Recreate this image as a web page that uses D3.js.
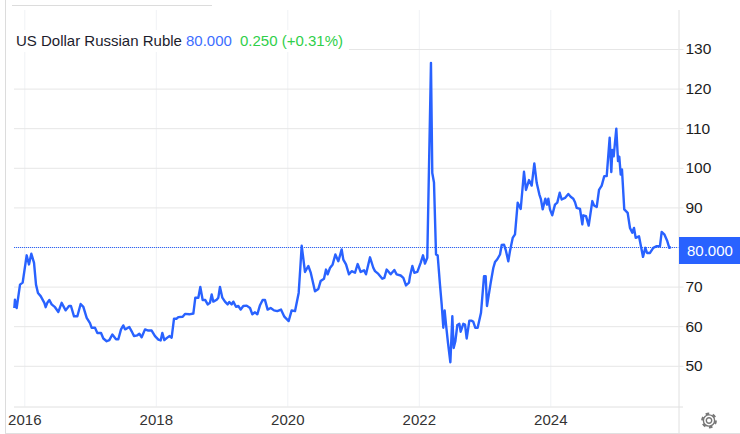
<!DOCTYPE html>
<html lang="en">
<head>
  <meta charset="UTF-8">
  <title>US Dollar Russian Ruble</title>
  <style>
    html, body { margin: 0; padding: 0; background: #fff; overflow: hidden; }
    text { font-family: "Liberation Sans", Arial, sans-serif; }
  </style>
</head>
<body>
  <script src="https://cdn.jsdelivr.net/npm/d3@7"></script>
  <script>
    // time as decimal year
    let years = [
      2015.848,2015.858,2015.884,2015.935,2015.975,2016.036,2016.071,2016.107,2016.148,2016.178,2016.208,2016.249,
      2016.305,2016.325,2016.350,2016.381,2016.416,2016.467,2016.518,2016.568,2016.629,2016.680,2016.710,2016.756,
      2016.807,2016.857,2016.898,2016.949,2016.999,2017.025,2017.075,2017.111,2017.167,2017.202,2017.253,2017.293,
      2017.339,2017.395,2017.430,2017.471,2017.506,2017.532,2017.557,2017.597,
      2017.633,2017.668,2017.719,2017.750,2017.785,2017.836,2017.886,2017.937,2017.988,2018.039,2018.074,2018.099,
      2018.130,2018.175,2018.206,2018.241,2018.277,2018.317,2018.343,2018.409,2018.444,2018.510,2018.571,2018.601,
      2018.647,2018.677,2018.713,2018.753,2018.789,2018.824,2018.850,2018.875,2018.926,2018.951,2018.976,2019.012,
      2019.052,2019.093,2019.118,2019.154,2019.179,2019.220,2019.255,2019.291,2019.331,2019.382,
      2019.433,2019.468,2019.509,2019.544,2019.585,2019.625,2019.661,2019.701,2019.747,2019.798,2019.848,2019.904,
      2019.955,2020.021,2020.066,2020.117,2020.173,2020.193,2020.219,2020.269,2020.320,2020.355,2020.421,2020.472,
      2020.507,2020.558,2020.589,2020.614,2020.649,2020.690,2020.731,2020.776,2020.802,2020.827,2020.852,2020.893,
      2020.938,2020.979,2021.030,2021.070,2021.116,2021.167,2021.197,
      2021.258,2021.309,2021.334,2021.385,2021.445,2021.476,2021.511,2021.572,2021.628,2021.663,2021.724,2021.765,
      2021.805,2021.851,2021.866,2021.902,2021.932,2021.978,2022.028,2022.064,2022.094,2022.129,2022.155,2022.178,
      2022.185,2022.205,2022.231,2022.262,2022.287,2022.322,2022.348,2022.373,2022.393,2022.414,2022.444,2022.480,
      2022.510,2022.530,2022.556,2022.586,2022.617,2022.637,2022.677,2022.703,2022.728,2022.769,2022.804,2022.829,
      2022.860,2022.895,2022.946,2022.992,2023.017,2023.037,2023.094,2023.133,2023.159,2023.194,2023.235,2023.261,
      2023.296,2023.326,2023.361,2023.387,2023.428,2023.463,2023.504,2023.550,2023.600,2023.630,2023.676,2023.717,
      2023.757,2023.793,2023.833,2023.858,2023.884,2023.924,2023.950,2023.970,2023.995,2024.030,2024.071,2024.106,
      2024.143,2024.173,2024.224,2024.274,2024.310,2024.350,2024.376,2024.401,2024.452,2024.487,2024.502,2024.543,
      2024.584,2024.639,2024.665,2024.706,2024.741,2024.782,2024.821,2024.858,2024.903,2024.928,2024.943,2024.964,
      2025.004,2025.030,2025.049,2025.071,2025.090,2025.125,2025.177,2025.212,2025.247,2025.273,2025.299,2025.349,
      2025.410,2025.445,2025.471,2025.516,2025.566,2025.618,2025.668,2025.694,2025.734,2025.779,2025.810,2025.836
    ];
    let values = [
      64.6,66.7,64.6,70.5,71.0,77.9,75.6,78.3,76.0,70.5,68.4,67.6,
      65.9,64.8,65.9,66.6,65.5,64.8,63.6,65.9,64.0,65.1,65.1,62.5,
      62.5,65.6,64.9,62.1,60.8,59.6,59.6,58.3,58.3,56.9,56.2,56.5,
      57.9,56.7,56.7,59.2,60.2,59.2,59.4,59.8,
      58.7,57.5,57.7,58.1,57.2,59.2,58.9,58.9,57.5,56.6,56.4,58.3,
      56.5,57.1,57.5,57.1,61.9,61.9,62.3,62.4,63.1,63.0,63.2,67.2,
      67.2,69.9,66.6,66.6,65.5,65.9,68.0,66.2,66.7,67.2,69.9,67.2,
      66.2,65.5,66.1,65.5,66.2,64.9,65.1,64.2,65.1,65.2,
      64.6,63.0,63.5,63.0,65.3,66.6,66.6,64.2,64.6,64.0,63.8,64.2,
      62.4,61.3,64.0,63.8,68.4,73.5,80.3,73.7,75.2,73.6,68.8,69.4,
      71.4,72.0,74.3,73.1,74.7,75.6,78.1,76.4,77.9,79.4,76.8,75.6,
      73.1,73.9,73.5,75.7,73.7,74.1,73.1,
      77.4,74.7,73.9,73.2,72.0,72.2,74.3,73.1,74.2,73.1,72.8,72.2,
      70.3,71.0,72.6,75.2,73.5,73.7,76.0,77.9,75.8,77.3,100,120,
      126.5,98.7,96.3,78.1,77.9,70.5,65.5,59.6,64.0,60.4,55.8,50.9,
      62.5,54.5,56.2,60.3,60.6,58.6,60.6,60.4,56.9,61.4,61.4,61.1,
      59.6,59.6,63.4,72.6,72.6,65.1,71.0,74.7,76.2,76.9,78.1,80.5,
      80.6,79.0,76.4,79.0,82.3,83.2,91.2,89.6,99.0,94.4,96.9,95.5,
      101.1,96.2,93.3,92.0,89.5,92.2,90.7,92.2,89.5,88.0,90.7,91.2,
      93.7,92.0,92.4,93.4,92.7,92.2,91.3,89.9,89.6,85.7,88.0,87.8,
      85.4,91.6,90.5,90.1,94.4,95.5,97.9,97.9,107.6,98.9,104.5,102.9,
      109.9,101.7,102.8,98.3,99.6,89.5,88.6,84.8,83.6,84.8,82.3,82.7,
      77.5,79.8,78.5,78.5,79.8,80.2,80.2,83.8,83.2,81.5,79.8,80.0
    ];
    let gridTicks = [50, 60, 70, 80, 90, 100, 110, 120, 130];
    let yTicks = [50, 60, 70, 90, 100, 110, 120, 130]; // 80 is covered by the price tag
    let yearTicks = [2016, 2018, 2020, 2022, 2024];
    let lastPrice = 80;
    let seriesName = 'US Dollar Russian Ruble';
    let priceLabel = '80.000';
    let changeLabel = '0.250 (+0.31%)';

    let width = 740;
    let height = 434;
    let plotLeft = 14;
    let plotRight = 678.5;
    let plotBottom = 406.5;
    let plotTop = 10;
    let blue = '#2962ff';

    let svg = d3.select('body').append('svg')
                .attr('width', width)
                .attr('height', height)
                .style('display', 'block');

    let x = d3.scaleLinear().domain([2016, 2024]).range([24.3, 550.3]);
    let y = d3.scaleLinear().domain([50, 130]).range([365.8, 49]);

    // outer frame bits
    svg.append('line').attr('x1', 5.5).attr('x2', 5.5).attr('y1', 0).attr('y2', height).attr('stroke', '#dcdcdc').attr('stroke-width', 1);
    svg.append('line').attr('x1', 12).attr('x2', 212).attr('y1', 5.5).attr('y2', 5.5).attr('stroke', '#dcdcdc').attr('stroke-width', 1);
    svg.append('line').attr('x1', 5).attr('x2', width).attr('y1', 433.5).attr('y2', 433.5).attr('stroke', '#e0e0e0').attr('stroke-width', 1);

    // grid
    svg.append('g')
       .attr('transform', `translate(0, ${plotBottom})`)
       .call(d3.axisBottom(x).tickValues(yearTicks).tickSize(-(plotBottom - plotTop)).tickFormat(''))
       .call(g => g.select('.domain').remove())
       .call(g => g.selectAll('line').attr('stroke', '#f0f2f6'));
    svg.append('g')
       .attr('transform', `translate(${plotRight}, 0)`)
       .call(d3.axisLeft(y).tickValues(gridTicks).tickSize(plotRight - plotLeft).tickFormat(''))
       .call(g => g.select('.domain').remove())
       .call(g => g.selectAll('line').attr('stroke', '#e6e6e6'));

    // legend sits on white, hides the grid behind it
    svg.append('rect').attr('x', plotLeft).attr('y', 30).attr('width', 335).attr('height', 22).attr('fill', '#fff');

    // last price dotted line
    svg.append('line')
       .attr('x1', plotLeft).attr('x2', plotRight)
       .attr('y1', 247.5).attr('y2', 247.5)
       .attr('stroke', blue).attr('stroke-width', 1).attr('stroke-dasharray', '1,1');

    // series
    let line = d3.line()
                 .x((d, i) => x(years[i]))
                 .y(d => y(d));
    svg.append('path')
       .datum(values)
       .attr('fill', 'none')
       .attr('stroke', blue)
       .attr('stroke-width', 2.4)
       .attr('stroke-linejoin', 'round')
       .attr('d', line);

    // axes
    let yAxis = svg.append('g')
       .attr('transform', `translate(${plotRight}, 0)`)
       .call(d3.axisRight(y).tickValues(yTicks).tickSize(5).tickPadding(2));
    yAxis.select('.domain').attr('d', `M0.5,${plotTop}V${height}`).attr('stroke', '#e0e0e0');
    yAxis.selectAll('line').attr('stroke', '#e6e6e6');
    yAxis.selectAll('text').attr('font-size', 15.5).attr('fill', '#1c1c1c').style('font-family', '"Liberation Sans", Arial, sans-serif');

    let xAxis = svg.append('g')
       .attr('transform', `translate(0, ${plotBottom})`)
       .call(d3.axisBottom(x).tickValues(yearTicks).tickSize(0).tickPadding(8).tickFormat(d3.format('d')));
    xAxis.select('.domain').attr('d', `M${plotLeft},0.5H683`).attr('stroke', '#e0e0e0');
    xAxis.selectAll('text').attr('font-size', 15).attr('fill', '#333').style('font-family', '"Liberation Sans", Arial, sans-serif');

    // price tag
    svg.append('rect').attr('x', 679).attr('y', 237).attr('width', 61).attr('height', 27).attr('fill', blue);
    svg.append('text').attr('x', 687).attr('y', 256).attr('font-size', 15).attr('fill', '#fff').text(priceLabel);

    // legend
    let legend = svg.append('text').attr('x', 16).attr('y', 46).attr('font-size', 15);
    legend.append('tspan').attr('fill', '#1c1c2c').text(seriesName);
    legend.append('tspan').attr('x', 186).attr('fill', '#3d6dff').text(priceLabel);
    legend.append('tspan').attr('x', 240).attr('fill', '#2fcf4a').text(changeLabel);

    // settings gear
    let gear = svg.append('g').attr('transform', 'translate(709, 420.5)').attr('fill', 'none').attr('stroke', '#777');
    gear.append('circle').attr('r', 2.7).attr('stroke-width', 1.4);
    gear.append('circle').attr('r', 5.6).attr('stroke-width', 1.4);
    gear.append('circle').attr('r', 6.8).attr('stroke-width', 2.2)
        .attr('stroke-dasharray', `${2 * Math.PI * 6.8 / 12},${2 * Math.PI * 6.8 / 12}`);
  </script>
</body>
</html>
